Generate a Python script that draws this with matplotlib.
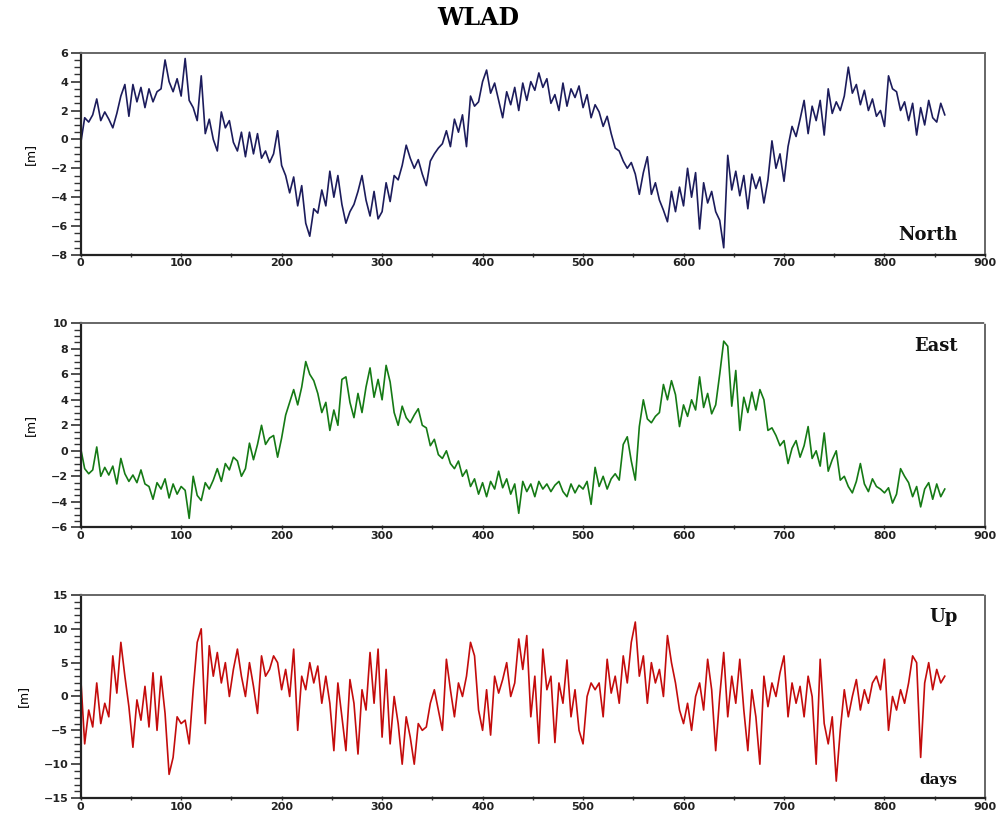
import matplotlib
matplotlib.use("Agg")
import matplotlib.pyplot as plt
import numpy as np
from matplotlib.ticker import MultipleLocator

# sampling step of the series below (days)
STEP = 4

north_mm = [
    -0.3, 1.5, 1.2, 1.7, 2.8, 1.3, 1.9, 1.4, 0.8, 1.8,
    3.0, 3.8, 1.6, 3.8, 2.6, 3.6, 2.2, 3.5, 2.6, 3.3,
    3.5, 5.5, 4.0, 3.3, 4.2, 3.0, 5.6, 2.7, 2.2, 1.3,
    4.4, 0.4, 1.4, 0.0, -0.8, 1.9, 0.8, 1.3, -0.2, -0.8,
    0.5, -1.2, 0.5, -1.0, 0.4, -1.3, -0.8, -1.6, -1.0, 0.6,
    -1.8, -2.5, -3.7, -2.6, -4.6, -3.2, -5.8, -6.7, -4.8, -5.1,
    -3.5, -4.6, -2.2, -4.0, -2.5, -4.5, -5.8, -5.0, -4.5, -3.6,
    -2.5, -4.2, -5.3, -3.6, -5.5, -5.0, -3.0, -4.3, -2.5, -2.8,
    -1.8, -0.4, -1.3, -2.0, -1.4, -2.4, -3.2, -1.5, -1.0, -0.6,
    -0.3, 0.6, -0.5, 1.4, 0.5, 1.7, -0.5, 3.0, 2.3, 2.6,
    4.0, 4.8, 3.2, 3.9, 2.7, 1.5, 3.3, 2.4, 3.6, 2.0,
    3.9, 2.7, 4.0, 3.4, 4.6, 3.6, 4.2, 2.5, 3.1, 2.0,
    3.9, 2.3, 3.5, 2.9, 3.7, 2.2, 3.1, 1.5, 2.4, 1.9,
    0.9, 1.6, 0.4, -0.6, -0.8, -1.5, -2.0, -1.6, -2.4, -3.8,
    -2.3, -1.2, -3.8, -3.0, -4.2, -4.9, -5.7, -3.6, -5.0, -3.3,
    -4.6, -2.0, -4.0, -2.3, -6.2, -3.0, -4.4, -3.6, -5.0, -5.6,
    -7.5, -1.1, -3.5, -2.2, -3.9, -2.5, -4.8, -2.4, -3.4, -2.6,
    -4.4, -2.8, -0.1, -2.0, -1.0, -2.9, -0.5, 0.9, 0.2, 1.4,
    2.7, 0.4, 2.3, 1.3, 2.7, 0.3, 3.5, 1.8, 2.6, 2.0,
    3.0, 5.0, 3.2, 3.8, 2.4, 3.4, 2.0, 2.8, 1.6, 2.0,
    0.9, 4.4, 3.5, 3.3, 2.0, 2.6, 1.3, 2.5, 0.3, 2.2,
    1.0, 2.7, 1.5, 1.2, 2.5, 1.7,
]

east_mm = [
    0.2, -1.4, -1.8, -1.5, 0.3, -2.0, -1.3, -1.9, -1.2, -2.6,
    -0.6, -1.8, -2.4, -1.9, -2.5, -1.5, -2.6, -2.8, -3.8, -2.5,
    -3.0, -2.2, -3.7, -2.6, -3.4, -2.8, -3.1, -5.3, -2.0, -3.5,
    -3.9, -2.5, -3.0, -2.3, -1.4, -2.4, -1.0, -1.5, -0.5, -0.8,
    -2.0, -1.4, 0.6, -0.7, 0.5, 2.0, 0.5, 1.0, 1.2, -0.5,
    1.0, 2.8, 3.8, 4.8, 3.6, 5.0, 7.0, 6.0, 5.5, 4.5,
    3.0, 3.8, 1.6, 3.2, 2.0, 5.6, 5.8, 3.8, 2.6, 4.5,
    3.0, 5.0, 6.5, 4.2, 5.6, 4.0, 6.7, 5.4, 3.0, 2.0,
    3.5, 2.6, 2.2, 2.8, 3.3, 2.0, 1.8, 0.4, 0.9, -0.3,
    -0.6, 0.0, -1.0, -1.4, -0.8, -2.0, -1.5, -2.8, -2.2, -3.4,
    -2.5, -3.6, -2.4, -3.0, -1.6, -2.9, -2.2, -3.4, -2.6, -4.9,
    -2.4, -3.2, -2.6, -3.6, -2.4, -3.0, -2.6, -3.2, -2.7, -2.4,
    -3.2, -3.6, -2.6, -3.3, -2.7, -3.0, -2.4, -4.2, -1.3, -2.8,
    -2.0, -3.0, -2.2, -1.8, -2.3, 0.5, 1.1, -0.8, -2.3, 1.9,
    4.0, 2.5, 2.2, 2.7, 3.0, 5.2, 4.0, 5.5, 4.4, 1.9,
    3.6, 2.7, 4.0, 3.2, 5.8, 3.4, 4.5, 2.9, 3.6, 6.0,
    8.6, 8.2, 3.5, 6.3, 1.6, 4.2, 3.0, 4.6, 3.2, 4.8,
    4.0, 1.6, 1.8, 1.2, 0.4, 0.8, -1.0, 0.2, 0.8, -0.5,
    0.4, 1.9, -0.6, 0.0, -1.2, 1.4, -1.6, -0.7, 0.0, -2.3,
    -2.0, -2.8, -3.3, -2.4, -1.0, -2.6, -3.2, -2.2, -2.8, -3.0,
    -3.3, -2.9, -4.1, -3.4, -1.4, -2.0, -2.5, -3.6, -2.8, -4.4,
    -3.0, -2.5, -3.8, -2.6, -3.6, -3.0,
]

up_mm = [
    3.0, -7.0, -2.0, -4.5, 2.0, -4.0, -1.0, -3.0, 6.0, 0.5,
    8.0, 3.0, -1.5, -7.5, -0.5, -3.5, 1.5, -4.5, 3.5, -5.0,
    3.0, -2.5, -11.5, -9.0, -3.0, -4.0, -3.5, -7.0, 1.0, 8.0,
    10.0, -4.0, 7.5, 3.0, 6.5, 2.0, 5.0, 0.0, 4.0, 7.0,
    3.0, 0.0, 5.0, 1.5, -2.5, 6.0, 3.0, 4.0, 6.0, 5.0,
    1.0, 4.0, 0.0, 7.0, -5.0, 3.0, 1.0, 5.0, 2.0, 4.5,
    -1.0, 3.0, -1.0, -8.0, 2.0, -3.0, -8.0, 2.5, -1.0, -8.5,
    1.0, -2.0, 6.5, -1.0, 7.0, -6.0, 4.0, -7.0, 0.0, -4.0,
    -10.0, -3.0, -6.0, -10.0, -4.0, -5.0, -4.5, -1.0, 1.0, -2.0,
    -5.0, 5.5, 1.0, -3.0, 2.0, 0.0, 3.0, 8.0, 6.0, -2.0,
    -5.0, 1.0, -5.7, 3.0, 0.5, 2.5, 5.0, 0.0, 2.0, 8.5,
    4.0, 9.0, -3.0, 3.0, -6.9, 7.0, 1.0, 3.0, -6.8, 2.0,
    -1.0, 5.4, -3.0, 1.0, -5.0, -7.0, 0.0, 2.0, 1.0, 2.0,
    -3.0, 5.5, 0.5, 3.0, -1.0, 6.0, 2.0, 8.0, 11.0, 3.0,
    6.0, -1.0, 5.0, 2.0, 4.0, 0.0, 9.0, 5.0, 2.0, -2.0,
    -4.0, -1.0, -5.0, 0.0, 2.0, -2.0, 5.5, 1.0, -8.0, 0.0,
    6.5, -3.0, 3.0, -1.0, 5.5, -2.0, -8.0, 1.0, -3.0, -10.0,
    3.0, -1.5, 2.0, 0.0, 3.5, 6.0, -3.0, 2.0, -1.0, 1.5,
    -3.0, 3.0, 0.0, -10.0, 5.5, -4.0, -7.0, -3.0, -12.5, -5.0,
    1.0, -3.0, 0.0, 2.5, -2.0, 1.0, -1.0, 2.0, 3.0, 1.0,
    5.5, -5.0, 0.0, -2.0, 1.0, -1.0, 2.0, 6.0, 5.0, -9.0,
    2.0, 5.0, 1.0, 4.0, 2.0, 3.0,
]

days = np.arange(len(north_mm)) * STEP

panels = [
    # series, colour, ylim, major, minor, label, label position
    (north_mm, "#1c1c5c", (-8, 6), 2, 0.5, "North", (0.97, 0.1)),
    (east_mm, "#157a15", (-6, 10), 2, 0.5, "East", (0.97, 0.89)),
    (up_mm, "#c40c0c", (-15, 15), 5, 1, "Up", (0.97, 0.89)),
]
boxes = [
    [0.0805, 0.6875, 0.9025, 0.2479],
    [0.0805, 0.3538, 0.9025, 0.2500],
    [0.0805, 0.0220, 0.9025, 0.2489],
]

tick_font = {"family": "DejaVu Sans", "weight": "bold", "size": 8}
label_font = {"family": "DejaVu Serif", "weight": "bold", "size": 13}

fig = plt.figure(figsize=(10.02, 8.16), dpi=100)

for (vals, color, ylim, major, minor, name, pos), box in zip(panels, boxes):
    ax = fig.add_axes(box)
    ax.plot(days[:len(vals)], vals, color=color, lw=1.2)
    ax.set_xlim(0, 900)
    ax.set_ylim(*ylim)
    ax.xaxis.set_major_locator(MultipleLocator(100))
    ax.xaxis.set_minor_locator(MultipleLocator(50))
    ax.yaxis.set_major_locator(MultipleLocator(major))
    ax.yaxis.set_minor_locator(MultipleLocator(minor))
    ax.tick_params(axis="y", which="major", direction="out", length=7, width=1.2,
                   colors="#333333", pad=2)
    ax.tick_params(axis="y", which="minor", direction="out", length=5, width=1.0,
                   colors="#333333")
    ax.tick_params(axis="x", which="both", direction="inout", length=3, width=1.0,
                   colors="#333333", pad=1)
    for lab in ax.get_xticklabels() + ax.get_yticklabels():
        lab.set_fontproperties(tick_font)
        lab.set_color("#222222")
    for side in ("left", "bottom"):
        ax.spines[side].set_color("#222222")
        ax.spines[side].set_linewidth(1.6)
    for side in ("top", "right"):
        ax.spines[side].set_color("#666666")
        ax.spines[side].set_linewidth(1.4)
        ax.spines[side].set_linestyle((0, (2, 1)))
    ax.set_ylabel("[m]", fontdict={"family": "DejaVu Sans", "size": 9}, labelpad=10)
    ax.text(pos[0], pos[1], name, transform=ax.transAxes, ha="right", va="center",
            fontdict=label_font, color="#111111")
    last_ax = ax

last_ax.text(0.97, 0.09, "days", transform=last_ax.transAxes, ha="right",
             va="center", fontdict={"family": "DejaVu Serif", "weight": "bold",
                                    "size": 11}, color="#111111")

fig.text(0.477, 0.978, "WLAD", ha="center", va="center",
         fontdict={"family": "DejaVu Serif", "weight": "bold", "size": 17})

fig.savefig("out.png", dpi=100)
